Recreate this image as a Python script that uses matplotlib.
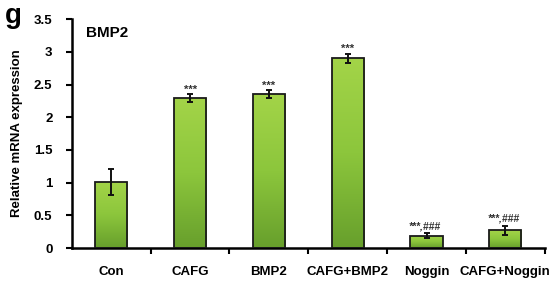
import numpy as np
import matplotlib.pyplot as plt
from matplotlib.colors import LinearSegmentedColormap

plt.rcParams['font.family'] = ['Liberation Sans', 'DejaVu Sans']
plt.rcParams['font.weight'] = 'bold'
plt.rcParams['axes.labelweight'] = 'bold'

groups = ['Con', 'CAFG', 'BMP2', 'CAFG+BMP2', 'Noggin', 'CAFG+Noggin']
values = [1.01, 2.29, 2.35, 2.90, 0.19, 0.27]
errors = [0.20, 0.06, 0.06, 0.07, 0.04, 0.07]
marks = ['', '***', '***', '***', '***,###', '***,###']

fig = plt.figure(figsize=(5.57, 2.81), dpi=100)
ax = fig.add_axes([0.129, 0.117, 0.849, 0.815])

x = np.arange(len(groups))
bars = ax.bar(x, values, width=0.41, color='none', edgecolor='#1a1a1a', linewidth=1.3, zorder=3)

cmap = LinearSegmentedColormap.from_list('g', ['#679f2c', '#8cc63c', '#a3d448'])
grad = np.linspace(0, 1, 256).reshape(-1, 1)
for b in bars:
    x0, w, h = b.get_x(), b.get_width(), b.get_height()
    im = ax.imshow(grad, extent=[x0, x0 + w, 0, h], origin='lower', cmap=cmap,
                   aspect='auto', zorder=2)
    im.set_clip_path(b)

ax.errorbar(x, values, yerr=errors, fmt='none', ecolor='#111111', elinewidth=1.4,
            capsize=2.5, capthick=1.4, zorder=4)

for xi, v, e, m in zip(x, values, errors, marks):
    if not m:
        continue
    if ',' in m:
        ax.text(xi - 0.23, v + e + 0.03, m, fontsize=7.5, color='#333333',
                ha='left', va='bottom', style='italic')
    else:
        ax.text(xi, v + e + 0.0, m, fontsize=8, color='#333333',
                ha='center', va='bottom')

ax.set_xlim(-0.5, len(groups) - 0.5)
ax.set_ylim(0, 3.5)
ax.set_yticks(np.arange(0, 3.51, 0.5))
ax.set_yticklabels(['0', '0.5', '1', '1.5', '2', '2.5', '3', '3.5'])
ax.set_xticks(np.arange(0.5, len(groups) - 0.5, 1.0).tolist() + [len(groups) - 0.5])
ax.set_xticklabels([])
ax.set_xticks(x, minor=True)
ax.set_xticklabels(groups, minor=True)
ax.tick_params(axis='x', which='major', direction='out', length=4, width=1.5)
ax.tick_params(axis='x', which='minor', length=0, pad=13, labelsize=9.5)
ax.tick_params(axis='y', direction='out', length=4, width=1.5, labelsize=9.5, pad=10)

for s in ['top', 'right']:
    ax.spines[s].set_visible(False)
for s in ['left', 'bottom']:
    ax.spines[s].set_linewidth(1.8)

ax.set_ylabel('Relative mRNA expression', fontsize=9.5, labelpad=8)
ax.text(0.03, 0.97, 'BMP2', transform=ax.transAxes, fontsize=11, ha='left', va='top')
fig.text(0.008, 0.99, 'g', fontsize=20, ha='left', va='top')

fig.savefig('out.png', dpi=100)
